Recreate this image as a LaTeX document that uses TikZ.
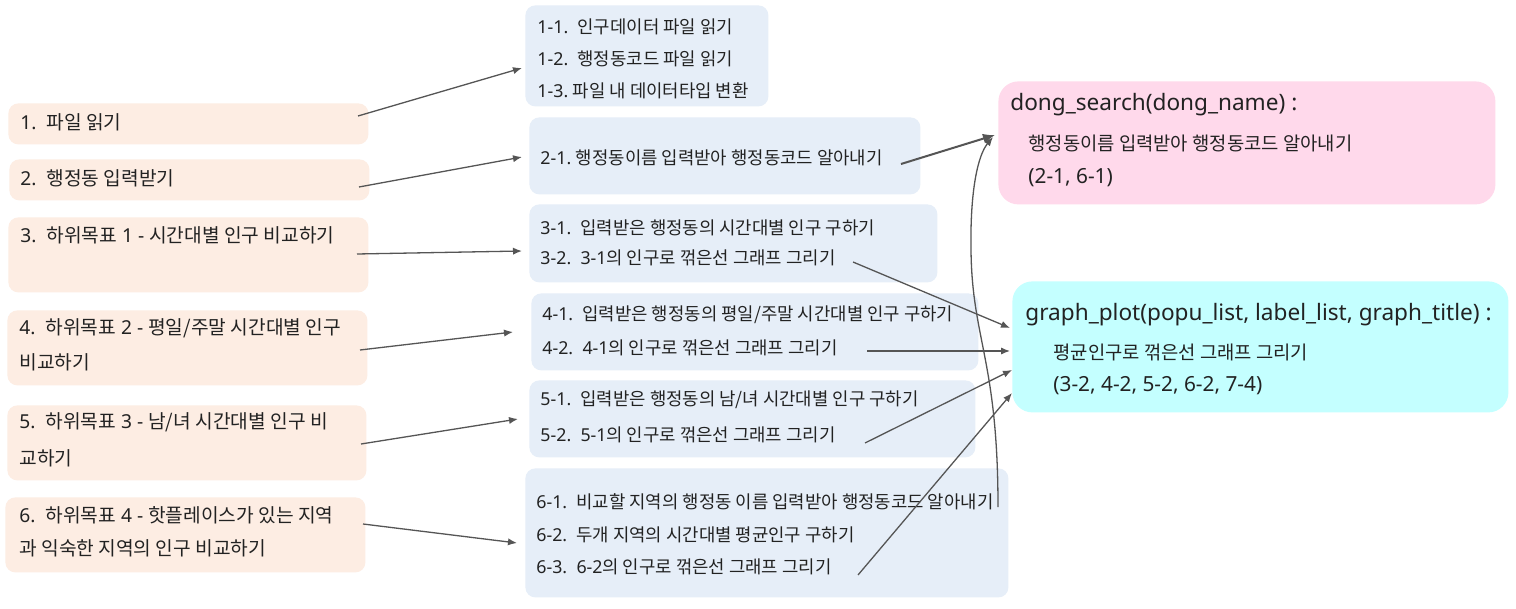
\documentclass[tikz,border=0pt]{standalone}
\usepackage{fontspec}
\setmainfont{Noto Sans CJK KR}
\newfontfamily\la{Noto Sans}
\usetikzlibrary{arrows.meta}
\definecolor{peach}{RGB}{253,237,227}
\definecolor{pblue}{RGB}{230,238,248}
\definecolor{ppink}{RGB}{255,217,235}
\definecolor{pcyan}{RGB}{196,255,255}
\definecolor{txt}{RGB}{34,34,34}
\definecolor{arr}{RGB}{85,85,85}
\begin{document}
\begin{tikzpicture}[x=0.5pt,y=-0.5pt,
  box/.style={rounded corners=5pt,draw=none,inner sep=0pt,anchor=north west},
  lbox/.style={box,fill=peach},
  mbox/.style={box,fill=pblue},
  lt/.style={anchor=west,inner sep=0pt,text=txt,font=\fontsize{9.6pt}{11pt}\selectfont},
  mt/.style={anchor=west,inner sep=0pt,text=txt,font=\fontsize{8.9pt}{10pt}\selectfont},
  rt/.style={anchor=west,inner sep=0pt,text=txt,font=\la\fontsize{11.3pt}{13pt}\selectfont},
  rb/.style={anchor=west,inner sep=0pt,text=txt,font=\fontsize{9.4pt}{10pt}\selectfont},
  rn/.style={anchor=west,inner sep=0pt,text=txt,font=\la\fontsize{10.4pt}{12pt}\selectfont},
  conn/.style={draw=arr,line width=0.65pt,-{Latex[length=4.5pt,width=3.6pt]}}]
\useasboundingbox[fill=white] (0,0) rectangle (1516,609);
% left boxes
\node[lbox,minimum width=180pt,minimum height=20.5pt] (L1) at (8,103) {};
\node[lbox,minimum width=180pt,minimum height=20.5pt] (L2) at (9,159) {};
\node[lbox,minimum width=180pt,minimum height=37.5pt] (L3) at (8,217) {};
\node[lbox,minimum width=180pt,minimum height=37.5pt] (L4) at (7,310) {};
\node[lbox,minimum width=179.5pt,minimum height=37.5pt] (L5) at (7,405) {};
\node[lbox,minimum width=180pt,minimum height=37.5pt] (L6) at (5,497) {};
% middle boxes
\node[mbox,minimum width=121.5pt,minimum height=50.5pt] (M1) at (525,5) {};
\node[mbox,minimum width=195.5pt,minimum height=38.5pt] (M2) at (529,117) {};
\node[mbox,minimum width=204pt,minimum height=39pt] (M3) at (529,204) {};
\node[mbox,minimum width=223.5pt,minimum height=38.5pt] (M4) at (531,293) {};
\node[mbox,minimum width=223pt,minimum height=38.5pt] (M5) at (529,380) {};
\node[mbox,minimum width=241.5pt,minimum height=64.5pt] (M6) at (525,468) {};
% right boxes
\node[box,fill=ppink,rounded corners=10pt,minimum width=248.5pt,minimum height=61.5pt] (R1) at (998,81) {};
\node[box,fill=pcyan,rounded corners=10pt,minimum width=248pt,minimum height=65.5pt] (R2) at (1012,281) {};
% left texts
\node[lt] (t1) at (20,122) {{\la 1.\ \ }파일 읽기};
\node[lt] (t2) at (20,178) {{\la 2.\ \ }행정동 입력받기};
\node[lt] (t3) at (20,235) {{\la 3.\ \ }하위목표{\la\ 1 - }시간대별 인구 비교하기};
\node[lt] (t4a) at (19,328) {{\la 4.\ \ }하위목표{\la\ 2 - }평일/주말 시간대별 인구};
\node[lt] (t4b) at (19,362) {비교하기};
\node[lt] (t5a) at (19,422) {{\la 5.\ \ }하위목표{\la\ 3 - }남/녀 시간대별 인구 비};
\node[lt] (t5b) at (19,458) {교하기};
\node[lt] (t6a) at (19,515) {{\la 6.\ \ }하위목표{\la\ 4 - }핫플레이스가 있는 지역};
\node[lt] (t6b) at (19,548) {과 익숙한 지역의 인구 비교하기};
% middle texts
\node[mt] (m11) at (537,27) {{\la 1-1.\ \ }인구데이터 파일 읽기};
\node[mt] (m12) at (537,59) {{\la 1-2.\ \ }행정동코드 파일 읽기};
\node[mt] (m13) at (537,91) {{\la 1-3.\ }파일 내 데이터타입 변환};
\node[mt] (m21) at (540,158) {{\la 2-1.\ }행정동이름 입력받아 행정동코드 알아내기};
\node[mt] (m31) at (540,228) {{\la 3-1.\ \ }입력받은 행정동의 시간대별 인구 구하기};
\node[mt] (m32) at (540,258) {{\la 3-2.\ \ 3-1}의 인구로 꺾은선 그래프 그리기};
\node[mt] (m41) at (542,315) {{\la 4-1.\ \ }입력받은 행정동의 평일/주말 시간대별 인구 구하기};
\node[mt] (m42) at (542,348) {{\la 4-2.\ \ 4-1}의 인구로 꺾은선 그래프 그리기};
\node[mt] (m51) at (540,400) {{\la 5-1.\ \ }입력받은 행정동의 남/녀 시간대별 인구 구하기};
\node[mt] (m52) at (540,435) {{\la 5-2.\ \ 5-1}의 인구로 꺾은선 그래프 그리기};
\node[mt] (m61) at (536,502) {{\la 6-1.\ \ }비교할 지역의 행정동 이름 입력받아 행정동코드 알아내기};
\node[mt] (m62) at (536,535) {{\la 6-2.\ \ }두개 지역의 시간대별 평균인구 구하기};
\node[mt] (m63) at (536,567) {{\la 6-3.\ \ 6-2}의 인구로 꺾은선 그래프 그리기};
% right texts
\node[rt] (r1t) at (1010,105) {dong\_search(dong\_name) :};
\node[rb] (r1a) at (1028,143) {행정동이름 입력받아 행정동코드 알아내기};
\node[rn] (r1b) at (1028,178) {(2-1, 6-1)};
\node[rt] (r2t) at (1025,315) {graph\_plot(popu\_list, label\_list, graph\_title) :};
\node[rb] (r2a) at (1053,352) {평균인구로 꺾은선 그래프 그리기};
\node[rn] (r2b) at (1053,386) {(3-2, 4-2, 5-2, 6-2, 7-4)};
% connector end points
\coordinate (s1) at (358,116); \coordinate (e1) at (522,68);
\coordinate (s2) at (359,187); \coordinate (e2) at (522,157);
\coordinate (s3) at (357,254); \coordinate (e3) at (522,251);
\coordinate (s4) at (360,350); \coordinate (e4) at (513,332);
\coordinate (s5) at (361,444); \coordinate (e5) at (518,419);
\coordinate (s6) at (363,524); \coordinate (e6) at (517,543);
\coordinate (s21) at (901,164); \coordinate (e21) at (995,135);
\coordinate (s32) at (853,262); \coordinate (e32) at (1010,328);
\coordinate (s42) at (867,351); \coordinate (e42) at (1010,351);
\coordinate (s52) at (865,443); \coordinate (e52) at (1012,370);
\coordinate (s63) at (858,575); \coordinate (e63) at (1012,393);
\coordinate (s61) at (998,507); \coordinate (k61) at (971,250); \coordinate (e61) at (993,137);
% connectors
\draw[conn] (s1) -- (e1);
\draw[conn] (s2) -- (e2);
\draw[conn] (s3) -- (e3);
\draw[conn] (s4) -- (e4);
\draw[conn] (s5) -- (e5);
\draw[conn] (s6) -- (e6);
\draw[conn,line width=1pt,-{Latex[length=6pt,width=5pt]}] (s21) -- (e21);
\draw[conn] (s32) -- (e32);
\draw[conn] (s42) -- (e42);
\draw[conn] (s52) -- (e52);
\draw[conn] (s63) -- (e63);
\draw[conn] (s61) .. controls (998,360) and (972,340) .. (k61) .. controls (970,190) and (978,155) .. (e61);
\end{tikzpicture}
\end{document}
